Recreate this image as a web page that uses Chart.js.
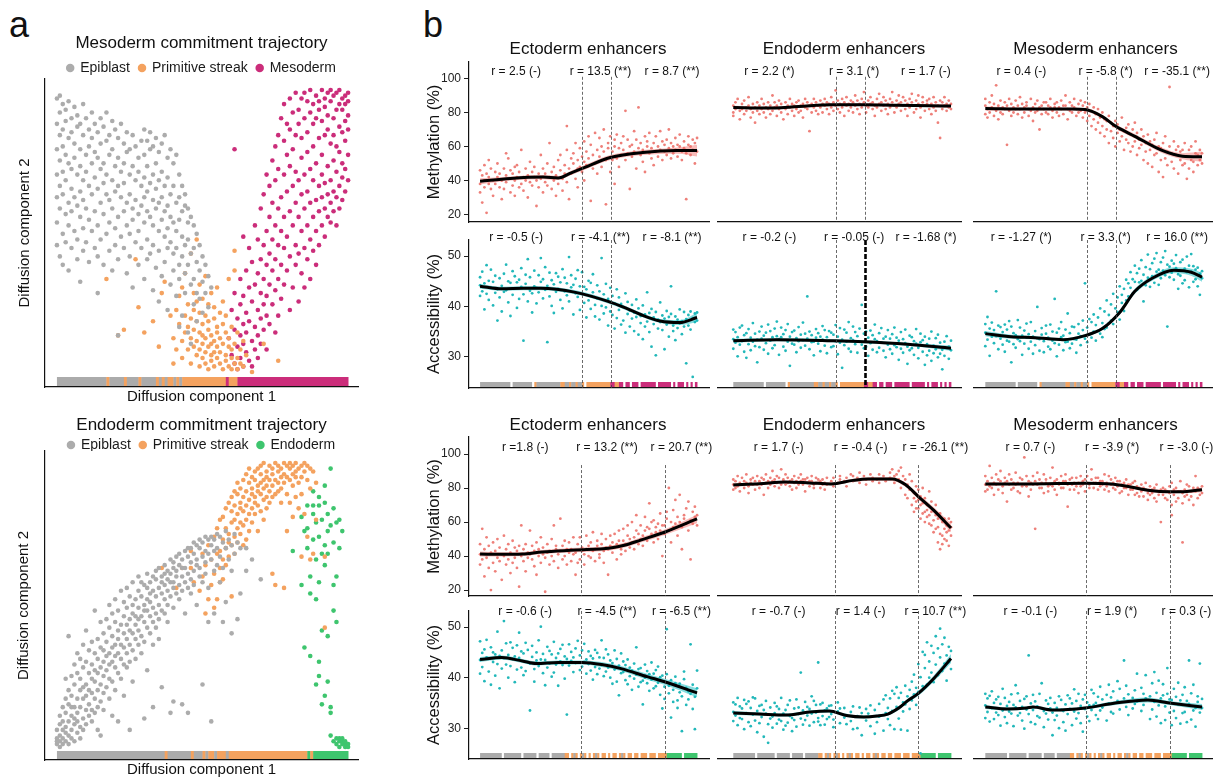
<!DOCTYPE html>
<html>
<head>
<meta charset="utf-8">
<script src="https://cdn.jsdelivr.net/npm/chart.js@4.4.1/dist/chart.umd.min.js"></script>
<style>
html, body { margin: 0; padding: 0; background: #fff; }
#fig { position: relative; width: 1226px; height: 778px; overflow: hidden; background: #fff;
       font-family: "Liberation Sans", Arial, Helvetica, sans-serif; }
#fig canvas { position: absolute; }
.tag { position: absolute; font-size: 36px; line-height: 36px; color: #111; }
</style>
</head>
<body>
<div id="fig">
  <div class="tag" style="left:9px;top:7px">a</div>
  <div class="tag" style="left:423px;top:7px">b</div>
</div>
<script>
// ---------------------------------------------------------------------------
// Panel a: cells in diffusion space ("x:y y y" groups, x = component 1)
// ---------------------------------------------------------------------------
const MESO_STAGES = ['Epiblast', 'Primitive streak', 'Mesoderm'];
const ENDO_STAGES = ['Epiblast', 'Primitive streak', 'Endoderm'];

const MESO_EPIBLAST = "0:97 88 79 70 62 53 45;1:98 92 84 75 66 58 41;2:95 86 80 71 63 49 38;3:93 89 77 68 56 46;4:96 83 74 60 52 36;5:90 85 72 65 57 44;6:94 81 76 62 50;7:91 87 70 59 47 40;8:88 79 73 64 55 32;9:95 84 68 61 51 43;10:90 77 71 58 46;11:86 80 66 54 39;12:92 83 74 63 50;13:88 78 69 57 44;14:85 76 65 52 41 28;15:90 81 72 60 47;16:87 74 67 56 38;17:92 82 70 63 49;18:84 77 61 53 43;19:89 79 68 58 36;20:86 73 64 51 45;21:83 76 66 55 40 13;22:88 71 62 48;23:81 74 67 57 44;24:85 78 60 52 35;25:79 70 63 49 41;26:84 73 58 54 30;27:80 68 61 46;28:76 71 56 50 38;29:82 66 59 44;30:86 77 69 62 53 33;31:82 73 64 57 47 40;32:85 79 67 55 42;33:80 70 61 52 45 29;34:83 74 65 58 37;35:78 68 60 50 43 25;36:81 71 62 54 34;37:84 66 57 48 39;38:76 69 59 51 44 22;39:79 63 55 46 31;40:74 66 53 42 36;41:77 60 50 44 27;42:70 62 54 38 33 16;43:66 57 48 41 20;44:63 59 45 35 28;45:58 53 47 38 14;46:55 42 31 10;47:52 44 33 24;48:49 39 28 18;49:45 36 26;50:41 32 21;51:38 28;52:34 23;53:30";
const MESO_STREAK = "17:33;21:13;23:15;27:40;28:23;30:14;33:18;35:9;36:28;37:32;39:20;40:3 12;41:22 8;42:17 27;43:11 30 5;44:20 14 35;45:8 24 16;46:42 12 3 19;47:28 9 15 22;48:47 6 18 11 25;49:14 2 21 8 31;50:10 17 5 26 13;51:20 7 12 3 34;52:15 9 24 1 18;53:6 13 28 4 10;54:19 2 11 23 7;55:14 5 30 9 16;56:3 12 21 7;57:10 17 1 25;58:6 14 4 20;59:12 2 9 33;60:5 16 1 8;61:43 36 10 3;62:5 14 1;63:8 3;64:11 2;65:6;67:0;71:10;76:4";
const MESO_MESODERM = "59:12;60:6 22;61:79 3 15 28;62:9 19 1;63:24 5 13 33;64:48 17 2 10 27;65:7 21 36 14;66:30 4 18 44;67:11 25 39 2;68:16 8 31 52;69:22 47 5 13 35;70:28 58 10 40 19;71:33 15 63 24 45;72:70 20 38 27 8 50;73:42 55 31 17 66;74:75 36 24 60 47;75:29 80 52 40 68 14;76:84 45 33 58 20 72;77:62 38 90 50 26;78:95 70 44 55 31 82;79:48 88 64 36 77;80:97 57 41 73 22 86;81:66 92 52 30 79;82:99 45 84 60 38 71;83:25 55 93 68 88 42;84:76 97 50 63 35 83;85:58 90 44 70 99 30;86:85 64 96 52 78 40;87:92 47 72 100 60 33;88:68 88 55 95 80 43;89:98 74 61 90 50 38;90:83 96 66 57 93 45;91:100 77 89 62 52 70;92:94 58 84 97 48 67;93:86 99 73 63 55 91;94:96 68 81 53 100 60;95:90 75 98 64 57 84;96:99 80 71 93 62 52;97:87 100 66 78 95 58;98:93 74 97 85 61 69;99:98 82 89 72 95 64;100:96 91 77 99 86 68";

const ENDO_EPIBLAST = "0:1 3 6 2;1:0 4 8 2 11;2:3 6 1 9 14;3:5 2 12 7 17 24;4:4 9 15 1 20 39;5:6 11 3 18 25 14;6:8 2 14 22 10 29;7:12 5 17 26 9 33;8:7 14 20 3 24 31;9:10 17 28 6 36 21;10:13 8 22 30 18 41;11:15 26 11 34 20;12:9 19 29 13 37 24;13:17 48 23 33 12 27;14:20 14 31 38 26 6;15:22 16 35 28 44 4;16:25 19 30 40 13 34;17:27 21 37 45 32;18:24 33 17 42 29 50;19:30 23 39 47 35 11;20:28 36 44 20 32 52;21:33 26 41 38 48 9;22:31 43 36 55 24;23:35 29 46 40 51 18;24:38 33 49 43 28 56;25:36 45 41 53 30 6;26:40 34 50 47 58 23;27:43 38 52 46 31;28:41 49 55 36 45 60;29:46 39 53 58 33;30:44 50 48 57 37 10;31:48 42 56 52 61 27;32:51 46 58 40 54;33:49 55 44 60 36 14;34:53 47 59 62 42;35:56 50 45 63 38;36:54 60 48 58 21;37:57 52 64 47 61;38:59 55 62 50 44;39:61 53 58 66 12;40:58 63 49 65 56 16;41:62 60 54 67;42:64 57 68 52;43:60 66 55 63 15;44:63 58 69 47;45:67 61 56 70 12;46:65 70 59 54;47:68 62 72 57;48:66 71 64 50;49:70 63 60 73;50:72 67 58 22;51:69 74 61 65;52:73 68 56 44;53:71 66 74 9;54:73 69 62 47;55:70 75 64;56:74 67 58;57:72 63 44;58:76 70 51;59:73 66;60:71 62 40;61:75 68;62:72 45;63:70 54;65:62 70;67:66;70:59";
const ENDO_STREAK = "36:63;41:56;43:63;46:69 63;47:58;49:55;50:68 60;51:47 64;52:52 71;53:57 66;54:61 74 49;55:52 68 77;56:69 63 58 80;57:73 66 81 59;58:70 77 64 84;59:75 67 86 72;60:79 53 71 83 88;61:74 85 80 68 90;62:82 77 89 72 93;63:86 79 91 75 84;64:88 83 94 78 71;65:90 85 80 96 73;66:87 93 82 76 98;67:91 84 95 89 79;68:94 88 97 82 86;69:92 98 85 90 76;70:96 89 93 99 83;71:94 100 87 91 80;72:97 92 88 95 84;73:99 94 90 86;74:96 61 92 98 88;75:100 94 89 57;76:97 93 99 90;77:98 95 91 86;78:100 96 56 93;79:99 95 76 89;80:98 94 100 86;81:96 99 92 81;82:100 97 88 95;83:98 84 93;84:99 95 67 89;85:97 100 82;86:94 99 74;87:98 91 66;88:97 68;89:93 80;92:67 42";
const ENDO_ENDODERM = "81:69;84:81 57;85:76 35;86:77 85 70;87:60 54 32;88:90 85 73 82;89:52 22 79 66;90:85 58 30 25 88 74;91:41 15 80 68;92:92 64 18 86 71;93:68 23 39 82 76;94:98 14 12 4 78;95:84 57 48 2 72;96:60 44 3 1 79;97:80 70 3 2 0;98:76 2 1 3;99:1 2 0;100:1 0";

// Stage of the cells along each trajectory, as runs (stage letter + length)
const MESO_STRIP_A = "g17 o1 g5 o1 g4 o1 g5 o1 g1 o1 g1 o2 g1 o1 g1 o15 m1 o3 m38";
const ENDO_STRIP_A = "g37 o1 g8 o1 g3 o1 g1 o2 g1 o3 g1 o27 e1 o1 e12";
const MESO_STRIP_B = "g14 w1 g9 w1 o1 g11 o2 g2 o1 g2 o1 g2 o1 w1 o11 m2 o2 m2 w1 m2 w1 m3 w1 m7 w1 m6 w1 m1 w1 m3 w1 m1 w1 m1 w1 m1";
const ENDO_STRIP_B = "g10 w1 g8 w1 g6 w1 g5 w1 g6 o2 w1 o1 g1 o1 w1 o1 g1 o1 w1 o1 w1 o1 g1 o1 w1 o2 w1 o1 w1 o2 w1 o1 g1 o1 w1 o2 w1 o2 w1 o3 w1 o3 w1 o4 e7 w1 e6";

// ---------------------------------------------------------------------------
// Panel b: enhancer methylation / accessibility along pseudotime (0-100)
// ---------------------------------------------------------------------------
const ENHANCER_SETS = ['Ectoderm enhancers', 'Endoderm enhancers', 'Mesoderm enhancers'];
const MET_TICKS = [20, 40, 60, 80, 100];
const ACC_TICKS = [30, 40, 50];

// Mesoderm trajectory - methylation
const MESO_MET_ECTO_CELLS = "0:46 38 33;1:43 27;2:40 49 36;3:44 21;4:38 52 42;5:35 47;6:40 31;7:45 38;8:50 42;9:36 44;10:29 40;11:47 35;12:43 39 56;13:53 41;14:33 46;15:37 44;16:40 31 48;17:49 42;18:36 45;19:38 58;20:42 34;21:47 40;22:43 30;23:51 39;24:45 37;25:42 48;26:25 40;27:44 36;28:55 41;29:47 33;30:39 44;31:50 37;32:42 62;33:35 45;34:40 48;35:31 43;36:52 38;37:46 55;38:41 34;39:49 44;40:58 39 72;41:47 29;42:53 44;43:50 56;44:41 62;45:47 52 36;46:59 48;47:45 54;48:63 51 40;49:57 49;50:66 53;51:28 61;52:47 55;53:68 50;54:58 44;55:65 54;56:60 48;57:70 57;58:52 26;59:62 59;60:45 66;61:57 52;62:64 60 38;63:53 67;64:59 48;65:62 55;66:66 58;67:81 52;68:56 64;69:35 60;70:61 54;71:69 57;72:47 64;73:59 83;74:62 55;75:51 58;76:66 45;77:60 63;78:56 68;79:53 59;80:62 49;81:57 66;82:60 54;83:69 58;84:52 63;85:57 61;86:64 55;87:59 70;88:62 53;89:56 60;90:65 58;91:54 61;92:60 67;93:57 52;94:63 59;95:29 56;96:61 66;97:55 60;98:58 64;99:50 62;100:65 57";
const MESO_MET_ECTO_FIT = [[0, 39.5], [14, 41.2], [29, 42], [36, 41.5], [42, 44.5], [48, 47.6], [60, 53.5], [75, 56.5], [91, 57.6], [100, 57.6]];
const MESO_MET_ECTO_CI = [1.8, 1.2, 1.2, 1.2, 1.3, 1.4, 1.5, 1.5, 1.8, 3.5];
const MESO_MET_ECTO_R = ['r = 2.5 (-)', 'r = 13.5 (**)', 'r = 8.7 (**)'];

const MESO_MET_ENDO_CELLS = "0:84 80 78;1:86 82;2:83 88;3:81 76;4:85 82;5:79 87;6:83 81;7:89 84;8:77 82;9:85 80;10:83 74;11:86 81;12:84 79;13:88 82;14:80 85;15:83 77;16:86 82;17:79 84;18:90 81;19:83 86;20:78 84;21:82 87;22:80 85;23:83 76;24:86 82;25:84 79;26:88 83;27:81 85;28:78 84;29:86 82;30:80 87;31:84 81;32:85 77;33:83 88;34:82 86;35:69 84;36:80 85;37:83 88;38:81 86;39:84 79;40:87 83;41:85 80;42:88 84;43:82 86;44:79 85;45:83 89;46:86 81;47:84 93;48:82 87;49:85 80;50:88 83;51:86 78;52:84 89;53:81 85;54:87 83;55:80 86;56:84 90;57:82 87;58:85 79;59:83 88;60:86 92;61:84 80;62:87 83;63:85 89;64:82 86;65:78 84;66:88 83;67:85 91;68:81 86;69:84 89;70:82 87;71:85 79;72:88 83;73:86 92;74:84 80;75:87 83;76:85 90;77:81 86;78:84 89;79:82 87;80:85 78;81:88 83;82:86 91;83:84 80;84:87 82;85:85 90;86:83 77;87:86 89;88:84 81;89:87 85;90:82 88;91:85 79;92:83 89;93:86 81;94:84 74;95:87 65;96:82 86;97:84 89;98:81 85;99:83 87;100:85 82";
const MESO_MET_ENDO_FIT = [[0, 83], [15, 82.6], [30, 83.5], [45, 84.5], [60, 84.6], [75, 84.2], [90, 84], [100, 83.8]];
const MESO_MET_ENDO_CI = [1, 0.8, 0.8, 0.8, 0.8, 0.8, 0.8, 1.2];
const MESO_MET_ENDO_R = ['r = 2.2 (*)', 'r = 3.1 (*)', 'r = 1.7 (-)'];

const MESO_MET_MESO_CELLS = "0:84 79 88;1:82 77;2:86 80;3:83 90;4:78 85;5:96 81;6:84 76;7:80 87;8:83 79;9:86 82;10:61 84;11:81 88;12:85 78;13:83 80;14:87 82;15:79 84;16:82 89;17:85 77;18:80 83;19:84 86;20:78 82;21:88 81;22:83 75;23:85 80;24:81 87;25:70 83;26:84 79;27:82 86;28:86 80;29:79 84;30:83 88;31:81 77;32:85 83;33:80 86;34:83 78;35:87 82;36:79 84;37:84 90;38:82 76;39:86 81;40:80 84;41:83 88;42:78 82;43:85 80;44:81 87;45:84 77;46:80 86;47:83 75;48:78 85;49:81 72;50:76 83;51:79 70;52:74 82;53:77 68;54:80 72;55:66 76;56:75 70;57:78 62;58:69 74;59:72 65;60:75 60;61:68 73;62:63 70;63:77 66;64:58 69;65:71 64;66:62 73;67:67 57;68:60 70;69:74 63;70:55 68;71:64 59;72:61 70;73:52 66;74:62 57;75:67 50;76:58 63;77:48 61;78:64 55;79:56 68;80:45 60;81:59 52;82:62 42;83:53 66;84:57 49;85:95 60;86:51 56;87:63 47;88:55 58;89:44 60;90:52 57;91:58 49;92:50 62;93:54 41;94:47 58;95:60 52;96:51 45;97:56 63;98:49 55;99:58 52;100:50 56";
const MESO_MET_MESO_FIT = [[0, 82.3], [20, 82], [40, 82], [46, 81.7], [54, 77.6], [60, 72], [69, 66], [81, 58], [91, 54.3], [100, 54]];
const MESO_MET_MESO_CI = [1.2, 0.8, 0.8, 0.9, 1, 1.2, 1.3, 1.5, 1.8, 3];
const MESO_MET_MESO_R = ['r = 0.4 (-)', 'r = -5.8 (*)', 'r = -35.1 (**)'];

// Mesoderm trajectory - accessibility
const MESO_ACC_ECTO_CELLS = "0:44.2 42.1 45.8;1:43.0 46.9;2:39.4 44.6;3:48.2 42.5;4:45.1 41.3;5:47.3 43.8;6:40.2 44.9;7:42.7 46.1;8:37.2 43.4;9:45.6 41.8;10:44.1 39.0;11:46.5 42.9;12:43.2 48.3;13:40.8 45.0;14:44.7 38.1;15:42.3 47.0;16:46.0 43.6;17:39.7 44.8;18:45.3 41.5;19:43.9 47.6;20:33.2 42.4;21:44.5 46.3;22:41.0 49.4;23:45.8 43.1;24:42.6 38.8;25:47.1 44.0;26:43.7 40.6;27:46.2 42.8;28:44.9 49.6;29:41.6 45.4;30:43.3 47.8;31:32.9 44.1;32:46.7 42.0;33:40.1 45.2;34:44.4 38.7;35:42.9 46.6;36:45.9 43.5;37:41.3 44.8;38:47.4 39.6;39:43.0 45.7;40:44.6 42.2;41:49.8 41.0;42:43.8 46.2;43:38.4 44.3;44:45.5 42.6;45:41.9 47.2;46:44.0 39.3;47:46.8 42.5;48:40.7 43.9;49:43.4 37.8;50:45.1 41.2;51:39.5 44.7;52:42.8 46.4;53:40.3 38.0;54:44.2 41.6;55:37.4 43.0;56:49.6 40.1;57:42.4 38.6;58:39.8 44.5;59:41.5 36.2;60:43.7 39.0;61:38.3 42.1;62:40.6 35.6;63:37.7 43.4;64:41.8 39.3;65:36.4 40.5;66:39.9 37.2;67:42.6 34.8;68:38.5 40.9;69:36.0 39.2;70:40.3 37.6;71:35.1 38.8;72:37.9 41.4;73:39.6 34.4;74:36.7 38.1;75:33.5 40.2;76:38.4 36.0;77:37.0 42.8;78:34.9 38.7;79:39.5 32.0;80:36.5 37.8;81:30.3 38.9;82:37.4 35.6;83:40.8 36.9;84:35.3 38.2;85:37.6 31.5;86:39.1 36.4;87:34.0 37.9;88:44.0 38.5;89:36.2 35.1;90:38.0 33.3;91:35.7 37.4;92:39.4 36.6;93:37.1 34.5;94:36.0 38.9;95:28.7 37.5;96:38.3 36.2;97:35.4 39.0;98:26.0 37.7;99:38.6 36.9;100:37.2 38.8";
const MESO_ACC_ECTO_FIT = [[0, 44], [10, 43.5], [20, 43.6], [28, 43.6], [44, 42.8], [59, 41], [67, 39.7], [74, 38.4], [83, 37.1], [92, 36.8], [100, 37.8]];
const MESO_ACC_ECTO_CI = [0.5, 0.4, 0.4, 0.4, 0.4, 0.4, 0.4, 0.4, 0.4, 0.5, 0.9];
const MESO_ACC_ECTO_R = ['r = -0.5 (-)', 'r = -4.1 (**)', 'r = -8.1 (**)'];

const MESO_ACC_ENDO_CELLS = "0:33.5 35.4 31.6;1:32.8 34.9;2:30.1 33.9;3:35.8 32.4;4:33.1 36.2;5:31.0 34.3;6:34.7 29.8;7:32.5 35.5;8:33.8 31.3;9:36.7 33.0;10:32.1 34.6;11:28.9 33.4;12:35.0 31.9;13:33.6 36.0;14:31.4 34.2;15:34.8 32.7;16:36.4 30.6;17:33.2 35.1;18:31.7 33.9;19:35.6 32.3;20:34.1 37.0;21:30.4 33.5;22:33.9 35.8;23:32.0 34.5;24:35.3 31.2;25:33.0 36.5;26:28.2 34.0;27:34.9 32.6;28:32.4 35.2;29:33.7 30.9;30:35.9 33.1;31:31.8 34.4;32:33.3 36.8;33:34.6 32.2;34:42.0 33.6;35:31.5 35.0;36:34.3 32.9;37:33.0 30.3;38:35.5 33.8;39:32.6 34.7;40:34.0 31.1;41:36.1 33.4;42:32.2 35.3;43:33.9 30.7;44:35.1 33.2;45:31.9 34.8;46:34.4 32.1;47:33.1 36.3;48:30.5 34.0;49:35.7 32.8;50:33.4 27.8;51:32.3 35.4;52:34.8 33.0;53:31.6 36.9;54:33.7 31.0;55:36.0 33.3;56:32.5 34.9;57:34.1 30.8;58:33.0 35.6;59:40.3 32.4;60:34.6 31.7;61:32.0 35.0;62:33.8 30.2;63:35.2 32.7;64:31.4 34.3;65:33.5 36.4;66:30.9 33.1;67:34.7 31.8;68:32.8 35.7;69:31.2 33.6;70:34.0 29.9;71:32.4 35.3;72:33.6 31.5;73:30.6 34.5;74:35.8 32.3;75:31.9 33.8;76:33.2 29.4;77:34.9 31.6;78:30.8 33.5;79:32.7 35.4;80:28.6 32.0;81:34.2 31.3;82:31.7 33.9;83:33.1 30.4;84:35.5 32.6;85:29.7 31.8;86:32.9 34.6;87:31.0 33.3;88:34.0 28.4;89:30.3 32.5;90:33.6 31.2;91:29.2 35.0;92:32.2 30.7;93:31.5 33.7;94:34.4 29.9;95:30.6 32.8;96:27.5 31.4;97:33.0 30.2;98:31.8 34.1;99:29.6 32.0;100:31.3 33.2";
const MESO_ACC_ENDO_FIT = [[0, 33.2], [20, 33.4], [45, 33.2], [60, 33], [80, 32.5], [100, 31.7]];
const MESO_ACC_ENDO_CI = [0.4, 0.3, 0.3, 0.3, 0.3, 0.5];
const MESO_ACC_ENDO_R = ['r = -0.2 (-)', 'r = -0.05 (-)', 'r = -1.68 (*)'];

const MESO_ACC_MESO_CELLS = "0:34.8 32.1 36.5;1:33.4 37.9;2:35.6 30.2;3:34.0 36.8;4:32.7 35.3;5:43.0 34.1;6:36.2 31.5;7:33.6 35.9;8:34.9 32.4;9:31.0 36.4;10:35.4 33.2;11:33.0 37.1;12:36.0 28.9;13:32.5 34.7;14:34.3 31.8;15:37.3 33.5;16:33.1 35.8;17:30.4 34.2;18:35.2 32.6;19:33.8 36.6;20:31.6 34.5;21:36.9 33.0;22:34.0 30.6;23:32.3 35.1;24:39.9 33.7;25:33.5 31.2;26:35.7 34.4;27:30.9 33.1;28:34.6 36.2;29:32.0 33.8;30:36.4 31.5;31:33.2 35.0;32:41.5 32.7;33:34.8 30.1;34:32.4 35.6;35:33.9 36.9;36:31.3 34.2;37:35.4 32.9;38:33.0 38.6;39:34.7 31.7;40:32.6 36.0;41:35.9 33.5;42:33.4 30.8;43:36.5 34.6;44:34.1 32.3;45:37.2 35.3;46:33.6 44.6;47:35.8 32.9;48:34.4 37.5;49:36.9 33.8;50:35.0 38.4;51:33.2 36.3;52:37.8 35.1;53:34.6 39.6;54:36.7 33.9;55:39.0 35.5;56:35.8 41.2;57:38.3 36.7;58:40.4 37.2;59:36.5 42.5;60:39.6 37.8;61:41.8 38.9;62:37.4 44.0;63:40.7 42.3;64:43.5 39.1;65:41.2 45.3;66:44.6 42.0;67:46.8 43.7;68:42.5 45.4;69:44.9 48.1;70:43.3 46.6;71:47.5 44.8;72:45.1 49.2;73:41.0 46.3;74:47.8 44.2;75:45.7 50.3;76:43.9 47.4;77:48.6 46.0;78:44.7 49.5;79:50.6 46.9;80:47.3 44.3;81:45.6 48.8;82:49.7 47.1;83:46.2 51.0;84:36.0 48.3;85:47.9 45.8;86:49.1 46.7;87:45.3 48.5;88:50.2 47.6;89:46.4 43.5;90:48.8 46.1;91:44.6 49.3;92:47.5 45.2;93:49.9 46.8;94:43.8 48.1;95:46.9 50.4;96:48.0 44.9;97:45.4 47.3;98:47.7 44.0;99:42.3 46.5;100:45.6 47.0";
const MESO_ACC_MESO_FIT = [[0, 34.6], [12, 34], [23, 33.8], [36, 33.4], [46, 34.2], [54, 35.6], [62, 38.8], [69, 43], [77, 45.6], [87, 47.2], [95, 46.8], [100, 45.8]];
const MESO_ACC_MESO_CI = [0.5, 0.4, 0.3, 0.3, 0.3, 0.3, 0.4, 0.5, 0.5, 0.6, 0.7, 0.9];
const MESO_ACC_MESO_R = ['r = -1.27 (*)', 'r = 3.3 (*)', 'r = 16.0 (**)'];

// Endoderm trajectory - methylation
const ENDO_MET_ECTO_CELLS = "0:41 47 35;1:56 38;2:44 28;3:39 51;4:46 33;5:42 20;6:36 48;7:43 31;8:50 39;9:37 45;10:41 26;11:52 40;12:35 44;13:47 38;14:42 30;15:49 36;16:39 45;17:33 43;18:46 22;19:40 58;20:44 37;21:31 47;22:42 39;23:55 41;24:38 46;25:43 34;26:48 29;27:40 44;28:36 51;29:45 41;30:39 19;31:47 42;32:43 35;33:50 40;34:37 58;35:44 46;36:41 33;37:62 43;38:46 38;39:40 49;40:35 44;41:48 42;42:44 37;43:51 41;44:42 29;45:47 36;46:38 51;47:45 43;48:41 35;49:52 44;50:46 40;51:39 48;52:54 43;53:44 37;54:49 46;55:41 39;56:47 53;57:43 36;58:50 45;59:29 44;60:46 52;61:42 48;62:53 45;63:38 47;64:49 55;65:44 41;66:56 49;67:47 43;68:52 58;69:45 50;70:60 48;71:51 44;72:55 64;73:47 53;74:58 50;75:52 46;76:63 55;77:49 57;78:56 71;79:53 60;80:61 48;81:57 54;82:50 59;83:65 55;84:40 58;85:58 53;86:62 66;87:55 80;88:60 48;89:67 57;90:73 59;91:52 63;92:60 76;93:57 44;94:64 62;95:68 59;96:55 72;97:61 38;98:66 59;99:63 69;100:58 64";
const ENDO_MET_ECTO_FIT = [[0, 41.2], [10, 41], [19.5, 41.2], [28.6, 42.4], [44, 43.5], [60, 44.7], [67, 46.5], [74, 49.4], [85, 54], [100, 61.8]];
const ENDO_MET_ECTO_CI = [1.5, 1.2, 1.2, 1.2, 1.3, 1.4, 1.4, 1.5, 1.6, 2.5];
const ENDO_MET_ECTO_R = ['r =1.8 (-)', 'r = 13.2 (**)', 'r = 20.7 (**)'];

const ENDO_MET_ENDO_CELLS = "0:82 79 85;1:84 80;2:81 87;3:83 78;4:86 82;5:80 84;6:83 88;7:81 77;8:85 83;9:82 86;10:79 84;11:87 82;12:84 80;13:82 86;14:85 76;15:83 88;16:80 84;17:86 82;18:84 90;19:81 85;20:83 87;21:86 80;22:82 91;23:84 85;24:88 82;25:83 86;26:81 84;27:85 79;28:83 87;29:80 84;30:86 82;31:84 88;32:82 85;33:85 78;34:83 86;35:81 84;36:84 87;37:82 80;38:86 83;39:83 85;40:80 84;41:85 82;42:83 79;43:82 86;45:84;46:86 81;48:83;49:87 85;51:84;52:81 86;54:88;55:84 87;57:86;58:83 89;60:87;61:85 82;63:88;64:84 86;66:85;67:83 88;69:87;70:84;72:86 89;73:91;74:83 87;75:88;76:85 90;77:80 92;78:87 83;79:76 85;80:82 74;81:79 88;82:70 84;83:77 66 74;84:81 72 68;85:68 79 73;86:75 62 70;87:71 80 65;88:66 74 60;89:63 70 67;90:78 59 64;91:66 72 58;92:61 54 67;93:70 64 56;94:57 48 62;95:65 44 53;96:52 60 47;97:62 56 50;98:49 58 54;99:55 62 46;100:57 52 60";
const ENDO_MET_ENDO_FIT = [[0, 81.8], [12, 82.5], [24, 83.5], [35, 83], [45, 82.4], [55, 84.5], [62, 85.3], [73, 85.3], [79, 82], [85, 75], [92, 67], [100, 56.5]];
const ENDO_MET_ENDO_CI = [1, 0.8, 0.8, 0.8, 0.8, 1, 1, 1.2, 1.3, 1.5, 1.8, 2.5];
const ENDO_MET_ENDO_R = ['r = 1.7 (-)', 'r = -0.4 (-)', 'r = -26.1 (**)'];

const ENDO_MET_MESO_CELLS = "0:82 87 78;1:84 79;2:93 81;3:80 86;4:83 76;5:88 82;6:79 85;7:84 90;8:81 77;9:86 83;10:72 84;11:82 88;12:85 79;13:80 83;14:89 82;15:83 78;16:77 86;17:85 81;18:98 82;19:81 87;20:84 75;21:79 83;22:87 82;23:56 84;24:82 89;25:85 80;26:80 83;27:88 77;28:83 85;29:78 81;30:86 82;31:81 92;32:84 79;33:76 85;34:83 82;35:87 80;36:80 84;37:84 88;38:69 82;39:85 79;40:82 86;41:79 83;42:86 81;43:83 77;44:81 87;45:84 82;46:78 85;47:87 83;48:82 80;49:85 91;50:80 83;51:83 86;52:86 79;53:81 84;54:84 82;55:79 88;56:83 81;57:87 78;58:82 85;59:80 83;60:86 79;61:81 84;62:84 77;63:78 82;64:83 80;65:80 85;66:76 82;67:82 79;68:79 83;69:84 76;70:77 81;71:80 75;72:82 78;73:75 80;74:79 83;75:73 77;76:81 76;77:77 79;78:74 80;79:82 72;80:78 76;81:60 79;82:76 80;83:79 74;84:73 78;85:77 81;86:83 70 64;87:76 79;88:80 72;89:74 78;90:78 84;91:71 77 48;92:79 75;93:76 82;94:81 73;95:75 78;96:70 80;97:78 87;98:80 74;99:76 79;100:81 77";
const ENDO_MET_MESO_FIT = [[0, 82.4], [20, 82.4], [46, 82.8], [58, 82.4], [67, 80.6], [76, 78.5], [85, 77.8], [93, 78], [100, 79]];
const ENDO_MET_MESO_CI = [1, 0.8, 0.8, 0.8, 0.9, 1, 1, 1, 1.5];
const ENDO_MET_MESO_R = ['r = 0.7 (-)', 'r = -3.9 (*)', 'r = -3.0 (-)'];

// Endoderm trajectory - accessibility
const ENDO_ACC_ECTO_CELLS = "0:43.5 47.2 40.8;1:42.1 44.9;2:45.6 39.3;3:44.0 47.5;4:41.2 43.8;5:46.0 38.6;6:43.1 45.0;7:40.4 44.6;8:49.1 42.7;9:44.3 37.9;10:45.4 41.8;11:51.2 43.9;12:42.6 46.8;13:40.0 44.5;14:47.0 42.3;15:43.7 45.9;16:39.1 44.2;17:46.4 41.6;18:43.9 48.9;19:42.0 45.2;20:44.8 40.5;21:41.3 46.9;22:45.5 43.0;23:33.5 42.8;24:44.1 46.3;25:41.7 39.2;26:45.0 43.4;27:42.3 47.4;28:50.1 43.6;29:40.9 44.7;30:43.5 38.5;31:46.1 42.0;32:42.8 45.3;33:44.6 40.2;34:41.0 47.1;35:43.9 42.6;36:38.4 44.8;37:45.7 43.2;38:42.5 46.5;39:44.2 39.8;40:32.7 43.7;41:46.6 42.4;42:43.3 45.1;43:41.1 44.0;44:45.8 42.9;45:43.0 47.3;46:44.4 41.5;47:42.2 45.4;48:46.7 43.1;49:43.6 40.8;50:45.2 42.7;51:41.4 44.3;52:43.8 39.6;53:45.5 42.1;54:40.7 44.9;55:44.0 41.8;56:42.5 47.4;57:43.9 40.3;58:41.2 45.6;59:44.6 42.0;60:40.0 43.4;61:42.9 38.8;62:45.4 41.6;63:39.2 43.7;64:42.4 36.5;65:44.8 40.9;66:41.1 43.2;67:39.5 42.5;68:43.6 38.7;69:40.3 42.0;70:37.6 41.4;71:42.8 39.8;72:40.6 46.0;73:38.2 41.7;74:41.9 39.1;75:39.4 34.7;76:42.6 40.0;77:38.9 41.3;78:40.7 37.4;79:43.0 39.6;80:37.9 40.8;81:41.5 38.3;82:39.0 42.2;83:36.6 40.1;84:40.4 33.9;85:38.2 35.8;86:49.6 40.7;87:36.9 38.4;88:32.1 39.5;89:37.6 35.2;90:40.2 38.9;91:35.5 34.0;92:38.8 37.1;93:29.4 36.3;94:39.7 41.2;95:34.6 38.0;96:37.3 35.7;97:46.6 36.8;98:33.8 38.6;99:36.2 29.8;100:37.9 41.4";
const ENDO_ACC_ECTO_FIT = [[0, 43.6], [10, 44], [19.5, 43.3], [26, 42.8], [36, 43], [47, 43], [56, 42.6], [65, 41.8], [77, 40.2], [85, 39.2], [100, 37]];
const ENDO_ACC_ECTO_CI = [0.5, 0.4, 0.4, 0.4, 0.4, 0.4, 0.5, 0.5, 0.6, 0.6, 0.9];
const ENDO_ACC_ECTO_R = ['r = -0.6 (-)', 'r = -4.5 (**)', 'r = -6.5 (**)'];

const ENDO_ACC_ENDO_CELLS = "0:33.2 35.1 31.4;1:32.5 34.7;2:30.6 36.0;3:34.3 32.0;4:31.8 33.9;5:35.6 29.8;6:33.0 34.8;7:31.2 35.3;8:34.0 30.4;9:32.7 36.1;10:35.9 31.5;11:33.4 29.2;12:31.0 34.4;13:34.6 32.2;14:28.3 33.6;15:32.9 35.4;16:30.8 27.1;17:34.1 31.9;18:32.3 30.1;19:35.0 33.0;20:30.9 34.3;21:33.8 31.7;22:31.4 36.0;23:29.7 32.9;24:33.6 30.5;25:31.1 34.6;26:35.5 32.4;27:32.0 29.4;28:33.9 31.6;29:30.3 35.7;30:32.8 34.1;31:41.0 31.9;32:33.5 30.7;33:31.6 35.2;34:34.2 32.5;35:30.5 33.8;36:32.9 36.3;37:35.4 31.2;38:33.1 34.6;39:31.3 32.0 43.0;40:34.7 30.6;41:32.4 35.0;42:30.7 33.5;43:33.9 31.8;44:32.2 34.4;45:34.5 32.8;46:31.7 30.2;48:33.3 35.1;49:31.0 33.9;51:34.0 32.1;52:32.6 30.8;54:33.2 31.4;55:29.8 34.3;57:32.4 30.0;58:34.1;59:28.6 33.0;61:31.5 33.8;62:32.9;63:30.4 34.5;65:33.6 28.9;66:31.2;67:34.8 32.3;69:29.5 35.7;70:33.0 36.5;71:31.8 34.0;72:35.9 30.6;73:33.4 37.4;74:36.8 29.8;75:34.2 38.1;76:31.9 36.0;77:37.0 29.7;78:35.1 33.3;79:38.4 34.7;80:36.3 29.5;81:33.8 37.6;82:39.2 35.5;83:36.7 40.6;84:38.0 34.6;85:37.2 42.7;86:40.1 25.0;87:45.1 38.3;88:41.9 44.5;89:38.6 47.0;90:43.2 40.0;91:46.3 41.0;92:39.1 44.9;93:42.6 48.2;94:45.8 40.5;95:44.0 49.7;96:41.3 46.6;97:47.9 42.8;98:44.4 39.4;99:46.1 43.1;100:45.3 41.7";
const ENDO_ACC_ENDO_FIT = [[0, 33], [12, 32.8], [24, 32.6], [35, 33.2], [44, 33.4], [52, 32.5], [60, 32.2], [66, 32.4], [71, 32.8], [76, 34], [80, 35.4], [85, 36.9], [92, 39.8], [100, 43.8]];
const ENDO_ACC_ENDO_CI = [0.4, 0.3, 0.3, 0.3, 0.3, 0.3, 0.3, 0.3, 0.3, 0.4, 0.4, 0.5, 0.6, 0.9];
const ENDO_ACC_ENDO_R = ['r = -0.7 (-)', 'r = 1.4 (-)', 'r = 10.7 (**)'];

const ENDO_ACC_MESO_CELLS = "0:34.5 36.8 32.0;1:33.2 35.9;2:36.4 31.3;3:34.0 37.3;4:31.8 35.0;5:35.7 33.1;6:32.6 36.2;7:34.8 30.5;8:33.5 37.8;9:36.0 32.2;10:31.0 34.4;11:35.2 33.3;12:32.9 36.7;13:30.4 34.6;14:34.1 38.5;15:36.9 32.5;16:33.0 35.4;17:31.5 34.2;18:35.8 29.9;19:33.7 36.3;20:44.4 32.8;21:34.9 31.2;22:36.6 33.6;23:30.8 35.3;24:34.3 32.4;25:32.1 36.8;26:38.9 33.9;27:33.4 30.2;28:35.5 32.9;29:31.7 34.8;30:33.9 36.0;31:28.6 33.1;32:35.0 31.6;33:32.5 34.0;34:36.3 30.0;35:33.6 35.6;36:31.2 33.4;37:34.7 29.5;38:32.8 36.5;39:35.9 33.8;40:30.6 34.9;41:33.3 37.7;42:31.9 35.4;43:36.8 33.0;44:34.4 31.0;45:29.3 35.7;46:33.8 36.6;47:35.1 32.3;48:31.4 34.5;49:37.6 33.6;50:34.6 36.9;51:32.6 35.0;52:36.2 31.8;53:33.5 38.2;54:35.7 34.1;56:31.5 36.6;57:38.6 34.9;58:36.1 33.2;59:32.9 37.3;61:35.4 39.3;62:37.8 33.7;64:43.4 35.9;65:34.2 38.4;66:36.7 32.6;68:33.9 36.0;69:37.5 34.8;70:35.3 40.8;72:38.0 33.4;73:34.6 36.8;74:40.5 35.9;76:36.3 31.8;77:33.7 38.9;78:41.1 35.2;79:37.0 32.3;80:34.5 39.4;81:35.9 31.0;82:38.7 36.5;83:31.6 34.3;84:36.8 41.9;85:33.1 35.7;86:35.6 30.6;87:37.8 33.4;88:32.0 36.2;89:34.7 39.0;90:30.9 35.5;91:36.6 33.0;92:33.2 38.1;93:35.4 31.2;94:43.4 34.8;95:31.7 36.9;96:38.6 33.5;97:34.0 30.3;98:36.3 35.2;99:33.1 42.8;100:35.8 34.0";
const ENDO_ACC_MESO_FIT = [[0, 34.2], [10, 33.8], [19, 34], [22, 34.2], [31, 33.6], [46, 34], [60, 35], [75, 35.6], [85, 35], [100, 34.2]];
const ENDO_ACC_MESO_CI = [0.4, 0.3, 0.3, 0.3, 0.3, 0.3, 0.4, 0.5, 0.4, 0.6];
const ENDO_ACC_MESO_R = ['r = -0.1 (-)', 'r = 1.9 (*)', 'r = 0.3 (-)'];

// Pseudotime cut points separating the three stages of each trajectory
const MESO_CUTS = [47, 60.5];
const ENDO_CUTS = [46.5, 85];
const MESO_LABEL_X = [16.6, 55.5, 88.5];
const ENDO_LABEL_X = [20.8, 58.5, 92.8];

// ---------------------------------------------------------------------------
// Styling and layout
// ---------------------------------------------------------------------------
Chart.defaults.font.family = '"Liberation Sans", Arial, Helvetica, sans-serif';
Chart.defaults.color = '#1a1a1a';

const STAGE_COLORS = { g: '#ababab', o: '#f4a25f', m: '#cb2d7a', e: '#3ec56e', w: '#ffffff' };
const ASSAY_STYLE = {
  met: { dot: 'rgb(238,128,122)', band: 'rgba(240,105,100,0.45)' },
  acc: { dot: 'rgb(34,184,186)', band: 'rgba(16,188,192,0.5)' }
};

const COLS = [
  { l: 469, r: 709, tc: 588, axisW: 59, xMin: -5.1, xMax: 105.5 },
  { l: 716, r: 961, tc: 844, axisW: 0, xMin: -7.3, xMax: 104.6 },
  { l: 972, r: 1212, tc: 1095.5, axisW: 0, xMin: -5.5, xMax: 104.6 }
];
const ROWS = [
  { top: 25, t: 62, b: 222, titleY: 49, yMin: 15.6, yMax: 109.7, ticks: MET_TICKS, yLabel: 'Methylation (%)',
    kind: 'met', labelDy: 10, cutTop: 101, cuts: MESO_CUTS, labelX: MESO_LABEL_X, strip: null },
  { top: 226, t: 240, b: 388, titleY: null, yMin: 23.8, yMax: 53.2, ticks: ACC_TICKS, yLabel: 'Accessibility (%)',
    kind: 'acc', labelDy: -2, cutTop: null, cuts: MESO_CUTS, labelX: MESO_LABEL_X, strip: MESO_STRIP_B },
  { top: 398, t: 437, b: 596, titleY: 425, yMin: 16.5, yMax: 110, ticks: MET_TICKS, yLabel: 'Methylation (%)',
    kind: 'met', labelDy: 11, cutTop: 93.5, cuts: ENDO_CUTS, labelX: ENDO_LABEL_X, strip: null },
  { top: 600, t: 611, b: 759, titleY: null, yMin: 23.9, yMax: 53.2, ticks: ACC_TICKS, yLabel: 'Accessibility (%)',
    kind: 'acc', labelDy: 0.5, cutTop: null, cuts: ENDO_CUTS, labelX: ENDO_LABEL_X, strip: ENDO_STRIP_B }
];
const PANELS = [
  [MESO_MET_ECTO_CELLS, MESO_MET_ECTO_FIT, MESO_MET_ECTO_CI, MESO_MET_ECTO_R],
  [MESO_MET_ENDO_CELLS, MESO_MET_ENDO_FIT, MESO_MET_ENDO_CI, MESO_MET_ENDO_R],
  [MESO_MET_MESO_CELLS, MESO_MET_MESO_FIT, MESO_MET_MESO_CI, MESO_MET_MESO_R],
  [MESO_ACC_ECTO_CELLS, MESO_ACC_ECTO_FIT, MESO_ACC_ECTO_CI, MESO_ACC_ECTO_R],
  [MESO_ACC_ENDO_CELLS, MESO_ACC_ENDO_FIT, MESO_ACC_ENDO_CI, MESO_ACC_ENDO_R],
  [MESO_ACC_MESO_CELLS, MESO_ACC_MESO_FIT, MESO_ACC_MESO_CI, MESO_ACC_MESO_R],
  [ENDO_MET_ECTO_CELLS, ENDO_MET_ECTO_FIT, ENDO_MET_ECTO_CI, ENDO_MET_ECTO_R],
  [ENDO_MET_ENDO_CELLS, ENDO_MET_ENDO_FIT, ENDO_MET_ENDO_CI, ENDO_MET_ENDO_R],
  [ENDO_MET_MESO_CELLS, ENDO_MET_MESO_FIT, ENDO_MET_MESO_CI, ENDO_MET_MESO_R],
  [ENDO_ACC_ECTO_CELLS, ENDO_ACC_ECTO_FIT, ENDO_ACC_ECTO_CI, ENDO_ACC_ECTO_R],
  [ENDO_ACC_ENDO_CELLS, ENDO_ACC_ENDO_FIT, ENDO_ACC_ENDO_CI, ENDO_ACC_ENDO_R],
  [ENDO_ACC_MESO_CELLS, ENDO_ACC_MESO_FIT, ENDO_ACC_MESO_CI, ENDO_ACC_MESO_R]
];

// ---------------------------------------------------------------------------
// Helpers
// ---------------------------------------------------------------------------
function parseCells(text) {
  const pts = [];
  text.split(';').filter(g => g.trim()).forEach(group => {
    const [xs, ys] = group.split(':');
    ys.trim().split(/\s+/).forEach(v => pts.push({ x: +xs, y: +v }));
  });
  return pts;
}
function parseRuns(text) {
  return text.trim().split(/\s+/).map(tok => ({ stage: tok[0], n: +tok.slice(1) }));
}
const toXY = pairs => pairs.map(([x, y]) => ({ x, y }));
const offsetXY = (pairs, ci, sign) => pairs.map(([x, y], i) => ({ x, y: y + sign * ci[i] }));
const fixWidth = w => s => { s.width = w; s.paddingTop = 0; s.paddingBottom = 0; };
const fixHeight = h => s => { s.height = h; s.paddingLeft = 0; s.paddingRight = 0; };

const figure = document.getElementById('fig');
function makeCanvas(left, top, width, height) {
  const c = document.createElement('canvas');
  c.width = width; c.height = height;
  c.style.left = left + 'px'; c.style.top = top + 'px';
  c.style.width = width + 'px'; c.style.height = height + 'px';
  figure.appendChild(c);
  return c;
}

// Stage strip under the cells, dashed stage cuts and correlation labels
const panelMarks = {
  id: 'panelMarks',
  beforeDatasetsDraw(chart, args, o) {
    if (!o.strip) return;
    const { ctx, chartArea: a, scales: { x } } = chart;
    const runs = parseRuns(o.strip);
    const total = runs.reduce((s, r) => s + r.n, 0);
    let pos = 0;
    ctx.save();
    runs.forEach(r => {
      const x0 = x.getPixelForValue(pos / total * 100);
      pos += r.n;
      const x1 = x.getPixelForValue(pos / total * 100);
      ctx.fillStyle = STAGE_COLORS[r.stage];
      ctx.fillRect(x0, a.bottom - o.stripOffset - o.stripHeight, x1 - x0 + 0.4, o.stripHeight);
    });
    ctx.restore();
  },
  afterDatasetsDraw(chart, args, o) {
    const { ctx, chartArea: a, scales: { x, y } } = chart;
    ctx.save();
    (o.cuts || []).forEach((v, i) => {
      const px = Math.round(x.getPixelForValue(v)) + 0.5;
      const top = o.cutTop == null ? a.top : y.getPixelForValue(o.cutTop);
      const w = (o.cutWidths && o.cutWidths[i]) || 0.8;
      ctx.lineWidth = w;
      ctx.strokeStyle = w > 1 ? '#000' : '#444';
      ctx.setLineDash(w > 1 ? [5, 2] : [3, 2]);
      ctx.beginPath();
      ctx.moveTo(px, top);
      ctx.lineTo(px, a.bottom);
      ctx.stroke();
    });
    ctx.setLineDash([]);
    if (o.labels) {
      ctx.font = '12px "Liberation Sans", Arial, sans-serif';
      ctx.fillStyle = '#111';
      ctx.textAlign = 'center';
      ctx.textBaseline = 'middle';
      o.labels.forEach((t, i) => ctx.fillText(t, x.getPixelForValue(o.labelX[i]), a.top + o.labelDy));
    }
    ctx.restore();
  }
};

// ---------------------------------------------------------------------------
// Panel a: diffusion maps
// ---------------------------------------------------------------------------
const LEFT_PANELS = [
  { top: 0, l: 45, r: 358, t: 79, b: 387, tc: 201.5, titleY: 43.5, legendY: 68, yTitleX: 25,
    xMin: -4.1, xMax: 103.4, yMin: -5.3, yMax: 103.9, stripH: 9,
    title: 'Mesoderm commitment trajectory', stages: MESO_STAGES,
    cells: [MESO_EPIBLAST, MESO_STREAK, MESO_MESODERM], colors: ['#acacac', '#f4a25f', '#cb2d7a'], strip: MESO_STRIP_A },
  { top: 400, l: 45, r: 358, t: 451, b: 760, tc: 201.5, titleY: 425, legendY: 445, yTitleX: 24,
    xMin: -4.1, xMax: 103.4, yMin: -4.6, yMax: 104.2, stripH: 8,
    title: 'Endoderm commitment trajectory', stages: ENDO_STAGES,
    cells: [ENDO_EPIBLAST, ENDO_STREAK, ENDO_ENDODERM], colors: ['#acacac', '#f4a25f', '#3ec56e'], strip: ENDO_STRIP_A }
];

LEFT_PANELS.forEach(P => {
  const left = 0;
  const width = 2 * (P.tc - left);
  const spacer = left + width - P.r;
  const height = P.b - P.top + 20;
  const canvas = makeCanvas(left, P.top, width, height);
  const padTop = P.titleY - P.top - 10.2;
  const legendTop = P.legendY - P.top - 16;
  new Chart(canvas, {
    type: 'scatter',
    data: {
      datasets: P.cells.map((txt, i) => ({
        label: P.stages[i],
        data: parseCells(txt),
        backgroundColor: P.colors[i],
        borderWidth: 0,
        pointRadius: 2.3,
        pointHoverRadius: 2.3
      }))
    },
    options: {
      responsive: false, animation: false, events: [], devicePixelRatio: 1,
      layout: { padding: 0 },
      plugins: {
        tooltip: { enabled: false },
        title: {
          display: true, text: P.title, color: '#111',
          font: { size: 17, weight: 'normal' },
          padding: { top: padTop, bottom: legendTop - padTop - 20.4 }
        },
        legend: {
          display: true, position: 'top', maxHeight: (P.t - P.top) - legendTop,
          labels: { usePointStyle: true, pointStyle: 'circle', boxWidth: 6, boxHeight: 6, padding: 9,
                    font: { size: 14 }, color: '#1a1a1a' }
        },
        panelMarks: { strip: P.strip, stripOffset: 1, stripHeight: P.stripH }
      },
      scales: {
        x: { type: 'linear', min: P.xMin, max: P.xMax,
             ticks: { display: false }, grid: { display: false },
             border: { display: true, color: '#111', width: 1.2 },
             title: { display: true, text: 'Diffusion component 1', color: '#111', font: { size: 15 }, padding: { top: 0, bottom: 1 } },
             afterFit: fixHeight(20) },
        y: { type: 'linear', min: P.yMin, max: P.yMax,
             ticks: { display: false }, grid: { display: false },
             border: { display: true, color: '#111', width: 1.2 },
             title: { display: true, text: 'Diffusion component 2', color: '#111', font: { size: 15 }, padding: { top: P.yTitleX - left - 9, bottom: 0 } },
             afterFit: fixWidth(P.l - left) },
        yr: { type: 'linear', position: 'right', display: true,
              ticks: { display: false }, grid: { display: false }, border: { display: false },
              afterFit: fixWidth(spacer) }
      }
    },
    plugins: [panelMarks]
  });
});

// ---------------------------------------------------------------------------
// Panel b: trends along pseudotime
// ---------------------------------------------------------------------------
PANELS.forEach((data, k) => {
  const row = Math.floor(k / 3), col = k % 3;
  const C = COLS[col], R = ROWS[row];
  const [cellsText, fit, ci, rLabels] = data;
  const style = ASSAY_STYLE[R.kind];
  const left = C.l - C.axisW;
  const width = 2 * (C.tc - left);
  const spacer = left + width - C.r;
  const height = R.b - R.top + 3;
  const canvas = makeCanvas(left, R.top, width, height);

  let titleOpts = { display: false };
  let padTop = R.t - R.top;
  if (R.titleY != null) {
    const pt = R.titleY - R.top - 10.2;
    titleOpts = { display: true, text: ENHANCER_SETS[col], color: '#111',
                  font: { size: 17, weight: 'normal' },
                  padding: { top: pt, bottom: (R.t - R.top) - pt - 20.4 } };
    padTop = 0;
  }
  // the late-stage cut of the endoderm-enhancer accessibility panel is drawn heavier
  const cutWidths = (row === 1 && col === 1) ? [0.8, 2.6] : null;

  new Chart(canvas, {
    type: 'scatter',
    data: {
      datasets: [
        { type: 'line', data: toXY(fit), borderColor: '#000', borderWidth: 3, pointRadius: 0,
          cubicInterpolationMode: 'monotone', fill: false },
        { type: 'line', data: offsetXY(fit, ci, 1), borderColor: 'transparent', borderWidth: 0, pointRadius: 0,
          cubicInterpolationMode: 'monotone', fill: '+1', backgroundColor: style.band },
        { type: 'line', data: offsetXY(fit, ci, -1), borderColor: 'transparent', borderWidth: 0, pointRadius: 0,
          cubicInterpolationMode: 'monotone', fill: false },
        { type: 'scatter', data: parseCells(cellsText), backgroundColor: style.dot, borderWidth: 0,
          pointRadius: 1.4, pointHoverRadius: 1.4 }
      ]
    },
    options: {
      responsive: false, animation: false, events: [], devicePixelRatio: 1,
      layout: { padding: { left: 0, right: 0, top: padTop, bottom: 2 } },
      plugins: {
        legend: { display: false },
        tooltip: { enabled: false },
        title: titleOpts,
        panelMarks: {
          strip: R.strip, stripOffset: 1, stripHeight: 5,
          cuts: R.cuts, cutTop: R.cutTop, cutWidths,
          labels: rLabels, labelX: R.labelX, labelDy: R.labelDy
        }
      },
      scales: {
        x: { type: 'linear', min: C.xMin, max: C.xMax,
             ticks: { display: false }, grid: { display: false },
             border: { display: true, color: '#111', width: 1.2 },
             afterFit: fixHeight(1) },
        y: { type: 'linear', display: C.axisW > 0, min: R.yMin, max: R.yMax,
             afterBuildTicks: s => { s.ticks = R.ticks.map(v => ({ value: v })); },
             ticks: { font: { size: 12 }, color: '#222', padding: 3 },
             grid: { display: true, drawOnChartArea: false, drawTicks: true, tickLength: 5, color: '#222', tickColor: '#222' },
             border: { display: true, color: '#111', width: 1.2 },
             title: { display: true, text: R.yLabel, color: '#111', font: { size: 16.5 }, padding: { top: 15, bottom: 0 } },
             afterFit: fixWidth(C.axisW) },
        yr: { type: 'linear', position: 'right', display: spacer > 0,
              ticks: { display: false }, grid: { display: false }, border: { display: false },
              afterFit: fixWidth(Math.max(spacer, 0)) }
      }
    },
    plugins: [panelMarks]
  });
});
</script>
</body>
</html>
